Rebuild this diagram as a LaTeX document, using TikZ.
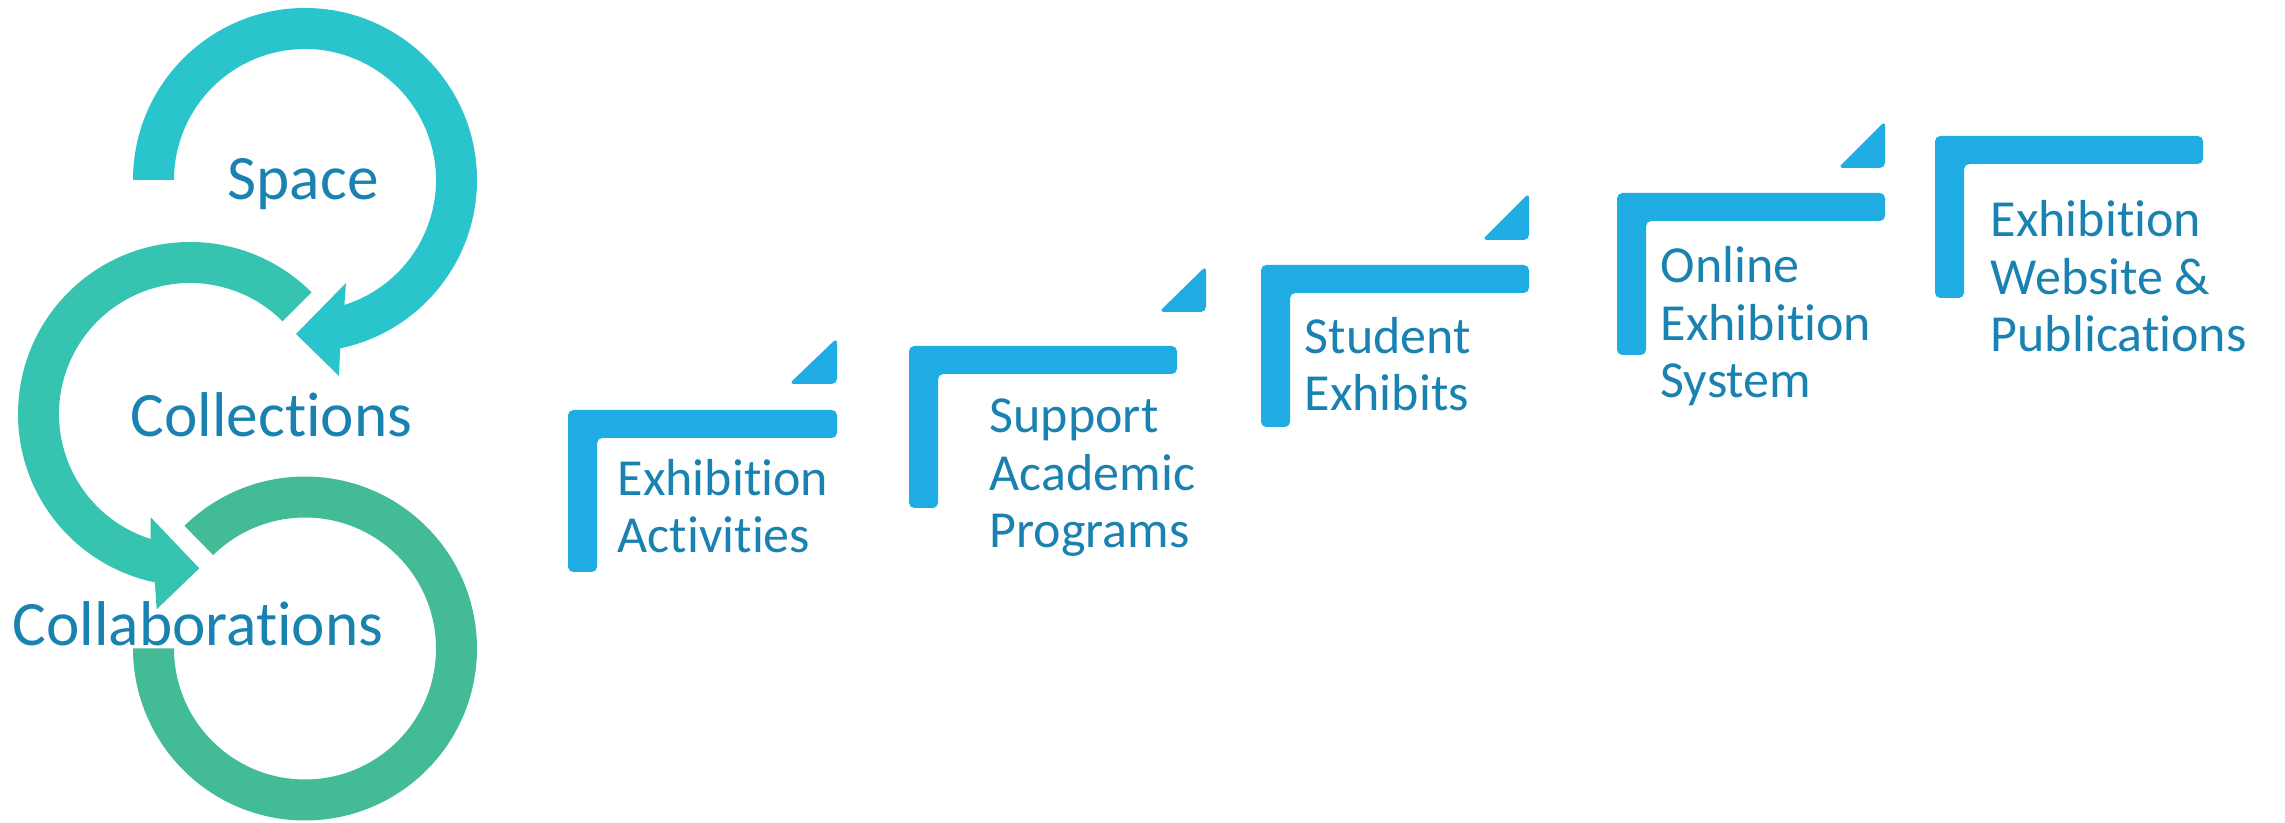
\documentclass[tikz,border=0pt]{standalone}
\usepackage{fontspec}
\setmainfont{Carlito}[Ligatures={NoCommon,NoContextual}]
\usetikzlibrary{calc}
\definecolor{ringA}{HTML}{29C4CC}
\definecolor{ringB}{HTML}{36C4B0}
\definecolor{ringC}{HTML}{43BB96}
\definecolor{labelblue}{HTML}{1A82B0}
\definecolor{stepblue}{HTML}{1EACE2}
\begin{document}
\begin{tikzpicture}[x=0.1mm,y=0.1mm,
  bigtext/.style={anchor=base west,inner sep=0pt,text=labelblue,font=\fontsize{18pt}{21pt}\selectfont},
  steptext/.style={anchor=base west,inner sep=0pt,text=labelblue,align=left,font=\fontsize{14.8pt}{16.45pt}\selectfont},
  stepshape/.style={fill=stepblue,draw=none,rounded corners=1.5}]
\useasboundingbox (0,0) rectangle (2285,822);
% centres of the three rings
\coordinate (cA) at (305,642);
\coordinate (cB) at (190,408);
\coordinate (cC) at (305,173.5);
% ring A (Space) with arrow head
\fill[ringA] ($(cA)+(180:172)$) arc[start angle=180,end angle=-78.2,radius=172]
  -- (339,446) -- (296,488) -- (346,539)
  -- ($(cA)+(-72.5:131)$) arc[start angle=-72.5,end angle=180,radius=131] -- cycle;
% ring B (Collections) with arrow head
\fill[ringB] ($(cB)+(45:172)$) arc[start angle=45,end angle=258.2,radius=172]
  -- (156.7,212.7) -- (199.3,253.7) -- (150.7,304.7)
  -- ($(cB)+(252.5:131)$) arc[start angle=252.5,end angle=45,radius=131] -- cycle;
% ring C (Collaborations)
\fill[ringC] ($(cC)+(134.5:172)$) arc[start angle=134.5,end angle=-180,radius=172]
  -- ($(cC)+(180:131)$) arc[start angle=-180,end angle=134.5,radius=131] -- cycle;
\node[bigtext] (space) at (227,622) {Space};
\node[bigtext] (coll) at (130,385) {Collections};
\node[bigtext] (collab) at (12,176) {Collaborations};
% steps
\fill[stepshape] (568,412) -- (837,412) -- (837,384) -- (597,384) -- (597,250) -- (568,250) -- cycle;
\fill[stepshape] (789,438) -- (837,484) -- (837,438) -- cycle;
\fill[stepshape] (909,476) -- (1177,476) -- (1177,448) -- (938,448) -- (938,314) -- (909,314) -- cycle;
\fill[stepshape] (1159,510) -- (1206,556) -- (1206,510) -- cycle;
\fill[stepshape] (1261,557) -- (1529,557) -- (1529,529) -- (1290,529) -- (1290,395) -- (1261,395) -- cycle;
\fill[stepshape] (1482,582) -- (1529,629) -- (1529,582) -- cycle;
\fill[stepshape] (1617,629) -- (1885,629) -- (1885,601) -- (1646,601) -- (1646,467) -- (1617,467) -- cycle;
\fill[stepshape] (1838,654) -- (1885,701) -- (1885,654) -- cycle;
\fill[stepshape] (1935,686) -- (2203,686) -- (2203,658) -- (1964,658) -- (1964,524) -- (1935,524) -- cycle;
% text: base anchor = baseline of the last line
\node[steptext] (s1) at (617,269) {Exhibition\\Activities};
\node[steptext] (s2) at (989,274) {Support\\Academic\\Programs};
\node[steptext] (s3) at (1304,411) {Student\\Exhibits};
\node[steptext] (s4) at (1660,424) {Online\\Exhibition\\System};
\node[steptext] (s5) at (1990,470) {Exhibition\\Website \&\\Publications};
\end{tikzpicture}
\end{document}
